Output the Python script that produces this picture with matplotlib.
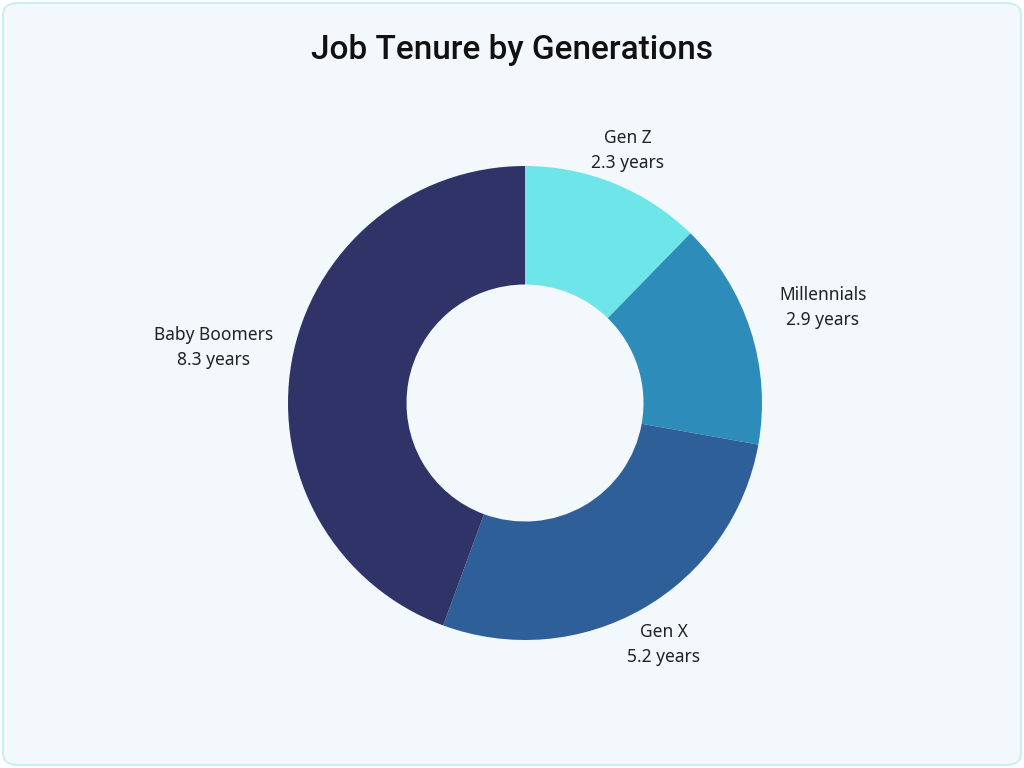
import numpy as np
import matplotlib.pyplot as plt
from matplotlib.patches import FancyBboxPatch

generations = ['Gen Z', 'Millennials', 'Gen X', 'Baby Boomers']
tenure = [2.3, 2.9, 5.2, 8.3]
colors = ['#6EE5E8', '#2E8CBA', '#2E5F98', '#2F3368']

fig = plt.figure(figsize=(10.24, 7.68), dpi=100)
fig.patch.set_facecolor('white')
bg = FancyBboxPatch((0.003, 0.004), 0.994, 0.992, boxstyle='round,pad=0,rounding_size=0.015',
                    transform=fig.transFigure, facecolor='#F3F8FD',
                    edgecolor='#BDEFF2', linewidth=1.2, zorder=-10)
fig.patches.append(bg)

# axes so that radius 1 = 237 px, centred at (525, 403)
half = 300
ax = fig.add_axes([(525 - half) / 1024, (768 - 403 - half) / 768, 2 * half / 1024, 2 * half / 768])
ax.set_zorder(5)
ax.patch.set_visible(False)
scale = half / 237
ax.pie(tenure, colors=colors, startangle=90, counterclock=False, radius=1,
       wedgeprops=dict(width=0.5, edgecolor='none'))
ax.set_xlim(-scale, scale)
ax.set_ylim(-scale, scale)
ax.set_axis_off()

total = sum(tenure)
cum = 0
for name, val in zip(generations, tenure):
    mid = np.deg2rad(90 - (cum + val / 2) / total * 360)
    cum += val
    r = 1.12 + 0.22 * np.cos(mid) ** 2
    ax.text(r * np.cos(mid), r * np.sin(mid), f'{name}\n{val} years', ha='center', va='center',
            fontsize=12.5, family='Noto Sans', color='#222222', linespacing=1.5)

fig.text(0.5, 0.935, 'Job Tenure by Generations', ha='center', va='center', fontsize=24,
         family='Roboto', weight='medium', color='#111111')

fig.savefig('out.png', dpi=100)
